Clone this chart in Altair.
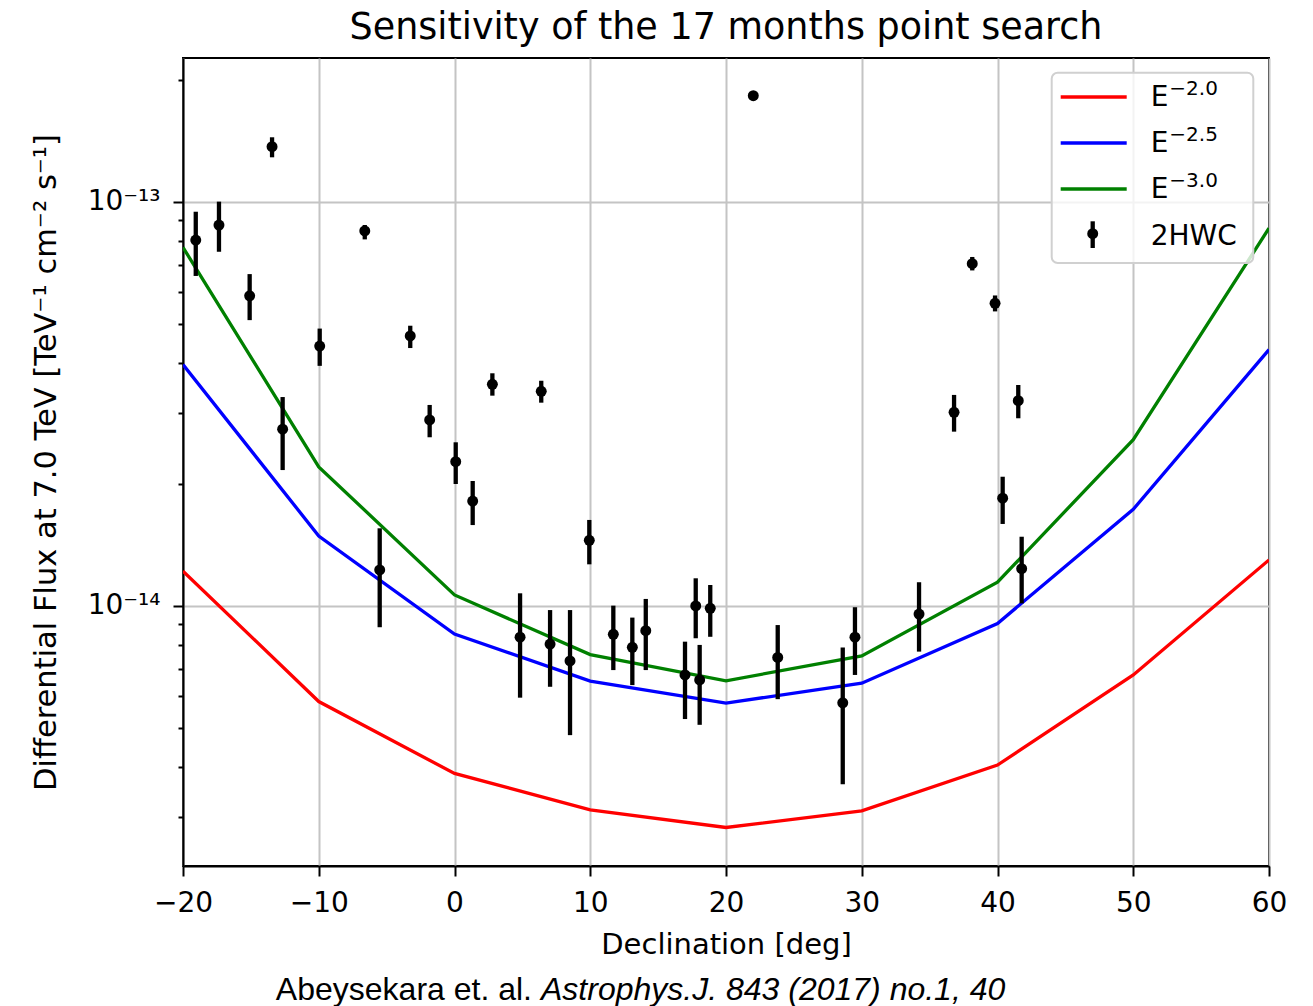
import altair as alt
import pandas as pd

# ---------------- data (flux values in units of 1e-14 TeV^-1 cm^-2 s^-1) ----------------
FLUX_UNIT = 1e-14

DECLINATION_GRID = [-20, -10, 0, 10, 20, 30, 40, 50, 60]
SENS_E20 = [1.22, 0.580, 0.385, 0.313, 0.283, 0.311, 0.404, 0.675, 1.30]
SENS_E25 = [3.96, 1.49, 0.852, 0.652, 0.575, 0.644, 0.905, 1.735, 4.31]
SENS_E30 = [7.72, 2.21, 1.065, 0.758, 0.653, 0.752, 1.145, 2.58, 8.61]
SPECTRA = ["E-2.0", "E-2.5", "E-3.0"]
SPECTRA_COLORS = ["#ff0000", "#0000ff", "#008000"]

HWC_DEC = [-19.06, -17.35, -15.09, -13.44, -12.66, -9.93, -6.61, -5.51, -3.26, -1.83,
           0.09, 1.34, 2.79, 4.83, 6.39, 7.04, 8.51, 9.93, 11.70, 13.10,
           14.09, 16.98, 17.77, 18.06, 18.84, 22.01, 23.81, 28.60, 29.50, 34.22,
           36.80, 38.14, 39.82, 40.38, 41.53, 41.78]
HWC_FLUX = [8.05, 8.77, 5.86, 13.71, 2.74, 4.40, 8.48, 1.228, 4.66, 2.887,
            2.276, 1.819, 3.538, 0.837, 3.40, 0.805, 0.731, 1.454, 0.851, 0.790,
            0.869, 0.675, 1.000, 0.656, 0.987, 18.33, 0.746, 0.576, 0.837, 0.955,
            3.016, 7.035, 5.614, 1.848, 3.223, 1.237]
HWC_LO = [6.56, 7.53, 5.10, 12.90, 2.17, 3.93, 8.08, 0.886, 4.35, 2.616,
          2.004, 1.586, 3.316, 0.593, 3.186, 0.631, 0.479, 1.268, 0.694, 0.637,
          0.694, 0.525, 0.832, 0.508, 0.839, 18.04, 0.588, 0.362, 0.675, 0.771,
          2.701, 6.77, 5.36, 1.596, 2.915, 1.015]
HWC_HI = [9.46, 10.02, 6.63, 14.46, 3.29, 4.86, 8.77, 1.557, 4.94, 3.145,
          2.542, 2.039, 3.767, 1.075, 3.61, 0.977, 0.977, 1.633, 1.002, 0.936,
          1.041, 0.816, 1.171, 0.801, 1.127, 18.61, 0.897, 0.789, 0.993, 1.145,
          3.33, 7.31, 5.87, 2.089, 3.524, 1.484]

X_TICKS = [-20, -10, 0, 10, 20, 30, 40, 50, 60]
Y_MAJOR = [1e-14, 1e-13]
Y_MINOR = [3e-15, 4e-15, 5e-15, 6e-15, 7e-15, 8e-15, 9e-15,
           2e-14, 3e-14, 4e-14, 5e-14, 6e-14, 7e-14, 8e-14, 9e-14, 2e-13]

rows = []
for name, vals in zip(SPECTRA, [SENS_E20, SENS_E25, SENS_E30]):
    for d, v in zip(DECLINATION_GRID, vals):
        rows.append({"spectrum": name, "dec": d, "flux": v * FLUX_UNIT})
lines_df = pd.DataFrame(rows)
hwc_df = pd.DataFrame({
    "dec": HWC_DEC,
    "flux": [v * FLUX_UNIT for v in HWC_FLUX],
    "lo": [v * FLUX_UNIT for v in HWC_LO],
    "hi": [v * FLUX_UNIT for v in HWC_HI],
})
one = pd.DataFrame({"k": [0]})

FONT = "DejaVu Sans"
MAJOR_TEST = ("(datum.value > 9.9e-15 && datum.value < 1.01e-14) || "
              "(datum.value > 9.9e-14 && datum.value < 1.01e-13)")

x_scale = alt.Scale(domain=[-20, 60], nice=False, zero=False)
y_scale = alt.Scale(type="log", domain=[2.272e-15, 2.272e-13], nice=False)

x_axis = alt.Axis(
    values=X_TICKS,
    labelExpr="datum.value < 0 ? '\u2212' + abs(datum.value) : '' + datum.value",
    title="Declination [deg]",
    tickSize=10, labelPadding=13, labelFlush=False, labelOverlap=False,
    titleY=64, titleBaseline="top",
    grid=True,
)
y_axis = alt.Axis(
    values=Y_MINOR + Y_MAJOR,
    labelExpr=("datum.value > 9.9e-14 && datum.value < 1.01e-13 ? '10\u207b\u00b9\u00b3' : "
               "(datum.value > 9.9e-15 && datum.value < 1.01e-14 ? '10\u207b\u00b9\u2074' : '')"),
    title="Differential Flux at 7.0 TeV [TeV\u207b\u00b9 cm\u207b\u00b2 s\u207b\u00b9]",
    tickSize={"condition": {"test": MAJOR_TEST, "value": 10}, "value": 5},
    gridOpacity={"condition": {"test": MAJOR_TEST, "value": 1}, "value": 0},
    labelPadding=13, labelOverlap=False, labelFlush=False,
    titleX=-152, titleY=404, titleBaseline="top", titleFontSize=30.5,
    grid=True,
)

X = alt.X("dec:Q", scale=x_scale, axis=x_axis)
Y = alt.Y("flux:Q", scale=y_scale, axis=y_axis)

lines = alt.Chart(lines_df).mark_line(strokeWidth=3.3, clip=True).encode(
    x=X, y=Y,
    color=alt.Color("spectrum:N", scale=alt.Scale(domain=SPECTRA, range=SPECTRA_COLORS), legend=None),
)
errbars = alt.Chart(hwc_df).mark_rule(color="black", strokeWidth=4.3).encode(
    x=X, y=alt.Y("lo:Q", scale=y_scale, axis=y_axis), y2="hi:Q"
)
points = alt.Chart(hwc_df).mark_circle(color="black", size=120, opacity=1).encode(x=X, y=Y)

# ---------------- legend (drawn in pixel space) ----------------
LEG_FONT_SIZE = 28
SUP_FONT_SIZE = 20
legend_layers = [
    alt.Chart(one).mark_rect(fill="white", fillOpacity=0.8, stroke="#d0d0d0", strokeWidth=2,
                             cornerRadius=6).encode(
        x=alt.value(868.7), x2=alt.value(1070.3), y=alt.value(14.7), y2=alt.value(205))
]
row_y = [39, 85, 131]
sup_txt = ["\u22122.0", "\u22122.5", "\u22123.0"]
for i, c in enumerate(SPECTRA_COLORS):
    yy = row_y[i]
    legend_layers.append(alt.Chart(one).mark_rule(color=c, strokeWidth=3.3).encode(
        x=alt.value(877.7), x2=alt.value(943.7), y=alt.value(yy)))
    legend_layers.append(alt.Chart(one).mark_text(
        text="E", align="left", baseline="alphabetic", font=FONT, fontSize=LEG_FONT_SIZE,
        color="black").encode(x=alt.value(967.7), y=alt.value(yy + 8.5)))
    legend_layers.append(alt.Chart(one).mark_text(
        text=sup_txt[i], align="left", baseline="alphabetic", font=FONT, fontSize=SUP_FONT_SIZE,
        color="black").encode(x=alt.value(986.3), y=alt.value(yy - 2)))
legend_layers.append(alt.Chart(one).mark_rule(color="black", strokeWidth=4.3).encode(
    x=alt.value(909.7), y=alt.value(163.3), y2=alt.value(190)))
legend_layers.append(alt.Chart(one).mark_point(filled=True, color="black", size=120, opacity=1,
                                               shape="circle").encode(
    x=alt.value(909.7), y=alt.value(175.7)))
legend_layers.append(alt.Chart(one).mark_text(
    text="2HWC", align="left", baseline="alphabetic", font=FONT, fontSize=LEG_FONT_SIZE,
    color="black").encode(x=alt.value(967.7), y=alt.value(186.7)))

# ---------------- caption ----------------
caption = [
    alt.Chart(one).mark_text(text="Abeysekara et. al.", align="right", baseline="alphabetic",
                             font="Liberation Sans", fontSize=32, color="black").encode(
        x=alt.value(349), y=alt.value(942)),
    alt.Chart(one).mark_text(text="Astrophys.J. 843 (2017) no.1, 40", align="left",
                             baseline="alphabetic", font="Liberation Sans", fontSize=32,
                             fontStyle="italic", color="black").encode(
        x=alt.value(358), y=alt.value(942)),
]

chart = alt.layer(lines, errbars, points, *legend_layers, *caption).properties(
    width=1086,
    height=808,
    autosize=alt.AutoSizeParams(type="none"),
    padding={"left": 183, "top": 58, "right": 40, "bottom": 140},
    title=alt.Title("Sensitivity of the 17 months point search", font=FONT, fontSize=36.5,
                    fontWeight="normal", color="black", anchor="middle", baseline="bottom",
                    offset=12, dy=37),
).configure_view(
    stroke="black", strokeWidth=2
).configure_axis(
    domainColor="black", domainWidth=2, tickColor="black", tickWidth=2,
    labelFont=FONT, labelFontSize=28, labelColor="black",
    titleFont=FONT, titleFontSize=29, titleColor="black", titleFontWeight="normal",
    gridColor="#c4c4c4", gridWidth=2,
)

chart.save("out.html", embed_options={"renderer": "svg", "actions": False})
